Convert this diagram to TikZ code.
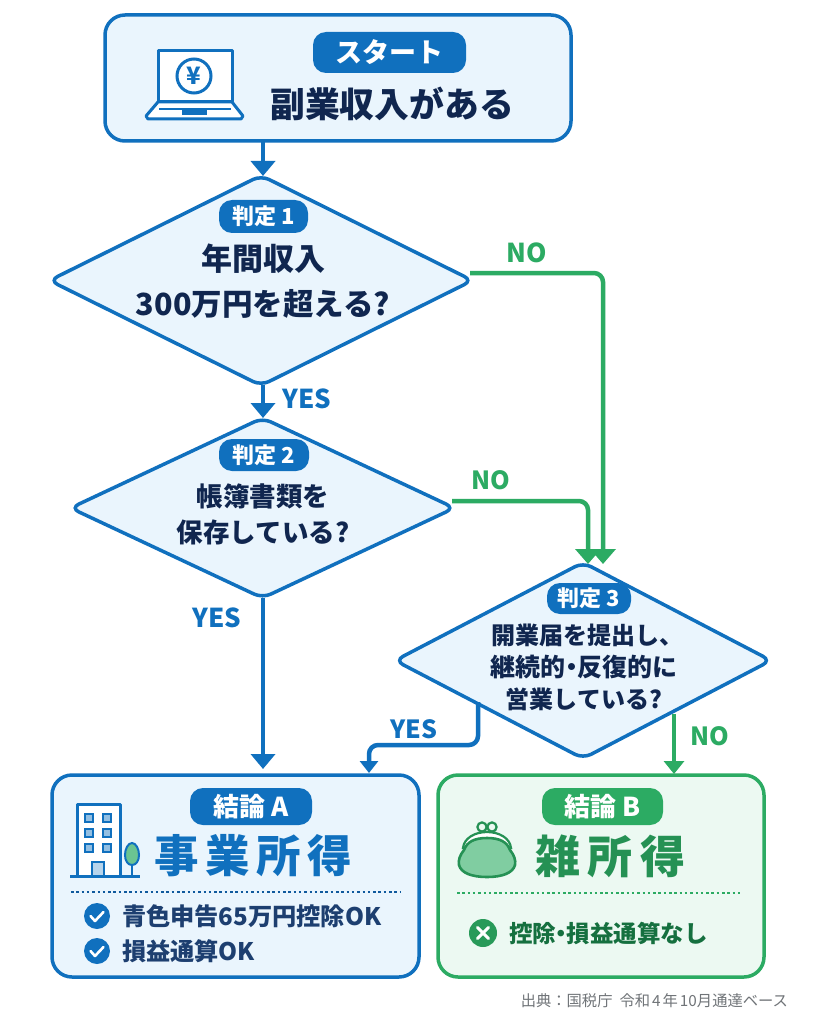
\documentclass[tikz,border=0pt]{standalone}
\usepackage{fontspec}
\setmainfont{Noto Sans CJK JP}
\usetikzlibrary{arrows.meta,shapes.geometric,calc}
\definecolor{bluemain}{HTML}{1070BE}
\definecolor{bluefill}{HTML}{EAF5FD}
\definecolor{greenmain}{HTML}{2CAB63}
\definecolor{greenfill}{HTML}{ECF9F2}
\definecolor{greendark}{HTML}{15703F}
\definecolor{navy}{HTML}{10264F}
\definecolor{navysoft}{HTML}{1D3F70}
\definecolor{srcgray}{HTML}{707478}
\newcommand{\fsz}[1]{\fontsize{#1pt}{#1pt}\selectfont}
\newcommand{\nakaguro}{\kern-6.5pt ・\kern-6.5pt }
\tikzset{
  x=1pt,y=-1pt,
  every node/.style={inner sep=0pt,outer sep=0pt},
  bluebox/.style={draw=bluemain,fill=bluefill,line width=3.5pt,rounded corners=20pt},
  greenbox/.style={draw=greenmain,fill=greenfill,line width=3.5pt,rounded corners=20pt},
  decision/.style={diamond,draw=bluemain,fill=bluefill,line width=3.5pt,rounded corners=9pt},
  bluepill/.style={fill=bluemain,rounded corners=13pt,text=white,font=\bfseries\fsz{22}},
  greenpill/.style={fill=greenmain,rounded corners=13pt,text=white,font=\bfseries\fsz{26}},
  yesline/.style={draw=bluemain,line width=4.5pt,rounded corners=9pt,-{Triangle[width=24pt,length=15pt]}},
  noline/.style={draw=greenmain,line width=4.5pt,rounded corners=9pt,-{Triangle[width=25pt,length=15pt]}},
  yeslabel/.style={text=bluemain,font=\bfseries\fsz{26}},
  nolabel/.style={text=greenmain,font=\bfseries\fsz{26}},
  qtext/.style={text=navy,font=\bfseries,align=center},
  iconline/.style={draw=bluemain,line width=3pt,line join=round},
}
\begin{document}
\begin{tikzpicture}
\useasboundingbox (0,0) rectangle (819,1024);
\fill[white!99!bluefill] (0,0) rectangle (819,1024);

% Start
\node[bluebox,minimum width=466pt,minimum height=126pt] (start) at (338,78) {};
\node[bluepill,minimum width=153pt,minimum height=41pt,font=\bfseries\fsz{27}] (startpill) at (389.5,52.5) {スタート};
\node[text=navy,font=\bfseries\fsz{34.8}] (starttitle) at (392,104) {副業収入がある};
% laptop
\draw[iconline,fill=white] (158,51) rectangle (232,102);
\draw[iconline,fill=white] (158,102) -- (232,102) -- (243,116) -- (241,119) -- (148,119) -- (146,116) -- cycle;
\draw[bluemain,line width=2pt] (159,109.5) -- (231,109.5);
\fill[bluemain] (182,110) rectangle (207,115);
\draw[bluemain,line width=3pt,fill=white] (194,76) circle (17pt);
\node[text=bluemain,font=\bfseries\fsz{24}] (yen) at (194,76) {¥};

% Decisions
\node[decision,minimum width=423pt,minimum height=210pt] (d1) at (261,280.5) {};
\node[decision,minimum width=384pt,minimum height=180pt] (d2) at (262.5,508) {};
\node[decision,minimum width=376pt,minimum height=196pt] (d3) at (583,660.5) {};

\node[bluepill,minimum width=89pt,minimum height=33pt] (p1) at (263.5,216.5) {判定 1};
\node[qtext,font=\bfseries\fsz{31}] (q1a) at (263,259) {年間収入};
\node[qtext,font=\bfseries\fsz{30.5}] (q1b) at (263,304) {300万円を超える?};
\node[bluepill,minimum width=90pt,minimum height=32pt] (p2) at (264,455) {判定 2};
\node[qtext,font=\bfseries\fsz{26.5}] (q2a) at (263,496) {帳簿書類を};
\node[qtext,font=\bfseries\fsz{26.5}] (q2b) at (263,532) {保存している?};
\node[bluepill,minimum width=84pt,minimum height=31pt] (p3) at (589,598.5) {判定 3};
\node[qtext,font=\bfseries\fsz{24}] (q3a) at (587,635) {開業届を提出し、};
\node[qtext,font=\bfseries\fsz{25}] (q3b) at (584,667) {継続的\nakaguro 反復的に};
\node[qtext,font=\bfseries\fsz{24}] (q3c) at (584,699) {営業している?};

% Conclusions
\node[bluebox,minimum width=367pt,minimum height=202pt] (ca) at (235.5,876) {};
\node[greenbox,minimum width=326pt,minimum height=202pt] (cb) at (601,876) {};
\node[bluepill,minimum width=122pt,minimum height=37pt,font=\bfseries\fsz{26}] (pa) at (251,806.5) {結論 A};
\node[greenpill,minimum width=121pt,minimum height=37pt] (pb) at (602.5,806.5) {結論 B};
\node[text=bluemain,font=\bfseries\fsz{44.5}] (ta) at (253,856) {事\kern6.5pt 業\kern6.5pt 所\kern6.5pt 得};
\node[text=greenmain!85!black,font=\bfseries\fsz{45}] (tb) at (610.5,856) {雑\kern8pt 所\kern8pt 得};
\draw[bluemain!70!navy,line width=2pt,dash pattern=on 2.5pt off 2.8pt] (71,892) -- (400,892);
\draw[greenmain,line width=2pt,dash pattern=on 2.5pt off 2.8pt] (457,893) -- (743,893);

% Building
\draw[iconline,fill=white] (77,804.5) rectangle (120,876);
\foreach \xx in {89,107}\foreach \yy in {818,833,848}
  \draw[bluemain,line width=1.8pt,fill=bluemain!45] (\xx-4,\yy-4) rectangle (\xx+4,\yy+4);
\draw[bluemain,line width=1.8pt,fill=bluemain!30] (92,862) rectangle (104,876);
\draw[bluemain,line width=2pt] (132,860) -- (132,876);
\draw[bluemain,line width=2pt,fill=greenmain!70] (132,843) .. controls (136,843) and (139,849) .. (139,855) .. controls (139,861) and (136,865) .. (132,865) .. controls (128,865) and (125,861) .. (125,855) .. controls (125,849) and (128,843) .. (132,843) -- cycle;
\draw[iconline] (70,876) -- (140,876);

% Purse
\draw[greenmain!85!black,line width=2.2pt,fill=greenfill] (482,827) circle (4.6pt);
\draw[greenmain!85!black,line width=2.2pt,fill=greenfill] (492,827) circle (4.6pt);
\draw[greenmain!85!black,line width=2.2pt,fill=white] (463,848) .. controls (464,838) and (475,832) .. (487,832) .. controls (499,832) and (510,838) .. (511,848) -- cycle;
\draw[greenmain!85!black,line width=2.6pt,fill=greenmain!60] (487,838) .. controls (500,838) and (507,842) .. (510,850) .. controls (514,855) and (516,860) .. (515,865) .. controls (513,873) and (502,877) .. (487,877) .. controls (472,877) and (461,873) .. (459,865) .. controls (458,860) and (460,855) .. (464,850) .. controls (467,842) and (474,838) .. (487,838) -- cycle;

% Items
\fill[bluemain] (97,916) circle (13pt) (97,951) circle (13pt);
\draw[white,line width=2.6pt,line cap=round,line join=round] (90.5,916) -- (95,921) -- (103.5,912);
\draw[white,line width=2.6pt,line cap=round,line join=round] (90.5,951) -- (95,956) -- (103.5,947);
\node[anchor=west,text=navysoft,font=\bfseries\fsz{24.2}] (ia) at (122,916) {青色申告65万円控除OK};
\node[anchor=west,text=navysoft,font=\bfseries\fsz{24.2}] (ib) at (122,951) {損益通算OK};
\fill[greenmain!90!black] (483,933) circle (14pt);
\draw[white,line width=3pt,line cap=round] (477.5,927.5) -- (488.5,938.5) (488.5,927.5) -- (477.5,938.5);
\node[anchor=west,text=greendark,font=\bfseries\fsz{23.5}] (ic) at (509,933) {控除\nakaguro 損益通算なし};
\node[anchor=east,text=srcgray,font=\fsz{15.3}] (src) at (788,1001) {出典：国税庁\hspace{7pt}令和\kern2pt 4\kern2pt 年\kern2pt 10月通達ベース};

% Connector end points
\coordinate (d1out) at (470,273);
\coordinate (d2out) at (452,501);
\coordinate (d3in1) at (603,564);
\coordinate (d3in2) at (588,564);
\coordinate (d3yes) at (478,702);
\coordinate (d3no) at (674,714);
\coordinate (caleft) at (369,773);
\coordinate (caright) at (263,769);
\coordinate (cbin) at (674,774);

% Connectors
\draw[yesline] (start.south -| 263,0) -- (263,176);
\draw[yesline] (263,385) -- (d2.north -| 263,0);
\draw[yesline] (d2.south -| 263,0) -- (caright);
\draw[noline] (d1out) -- (d1out -| d3in1) -- (d3in1);
\draw[noline] (d2out) -- (d2out -| d3in2) -- (d3in2);
\draw[yesline,-{Triangle[width=18pt,length=12pt]}] (d3yes) -- (478,745) -- (369,745) -- (caleft);
\draw[noline,-{Triangle[width=20pt,length=13pt]}] (d3no) -- (cbin);

% Labels
\node[nolabel] (no1) at (527,253) {NO};
\node[yeslabel] (yes1) at (307,399) {YES};
\node[nolabel,font=\bfseries\fsz{25}] (no2) at (491,480) {NO};
\node[yeslabel] (yes2) at (217,618) {YES};
\node[yeslabel,font=\bfseries\fsz{25}] (yes3) at (414,729) {YES};
\node[nolabel,font=\bfseries\fsz{25}] (no3) at (710,736) {NO};
\end{tikzpicture}
\end{document}
